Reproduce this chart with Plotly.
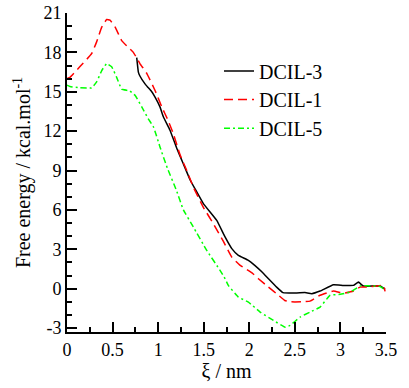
import plotly.graph_objects as go

# DCIL-3 (black, solid)
x_dcil3 = [0.765, 0.783, 0.80, 0.856, 0.88, 0.93, 0.966, 1.02, 1.057, 1.13, 1.204, 1.277,
           1.35, 1.405, 1.496, 1.643, 1.734, 1.808, 1.88, 1.99, 2.06, 2.14, 2.21, 2.30,
           2.37, 2.52, 2.61, 2.686, 2.777, 2.923, 3.033, 3.143, 3.198, 3.25, 3.436, 3.49]
y_dcil3 = [17.6, 16.5, 16.2, 15.6, 15.4, 15.0, 14.6, 13.85, 13.1, 12.07, 10.7, 9.5,
           8.3, 7.6, 6.48, 5.2, 3.94, 3.05, 2.54, 2.16, 1.78, 1.27, 0.76, 0.12,
           -0.3, -0.33, -0.3, -0.38, -0.18, 0.3, 0.25, 0.25, 0.5, 0.2, 0.2, -0.05]

# DCIL-1 (red, dashed)
x_dcil1 = [0.0, 0.033, 0.14, 0.27, 0.325, 0.38, 0.435, 0.472, 0.527, 0.6, 0.655, 0.728,
           0.8, 0.875, 0.966, 1.04, 1.11, 1.167, 1.24, 1.314, 1.386, 1.496, 1.606, 1.716,
           1.808, 1.9, 2.03, 2.1, 2.21, 2.32, 2.39, 2.45, 2.58, 2.667, 2.777, 2.923,
           3.033, 3.143, 3.216, 3.29, 3.47, 3.49]
y_dcil1 = [16.0, 16.1, 16.9, 17.9, 18.8, 19.9, 20.5, 20.45, 19.94, 18.9, 18.5, 18.0,
           17.15, 16.4, 15.1, 13.85, 12.8, 11.8, 10.2, 9.0, 7.74, 6.2, 4.95, 3.6,
           2.4, 1.78, 1.2, 0.76, 0.12, -0.5, -0.9, -1.0, -1.0, -0.95, -0.5, -0.18,
           -0.35, -0.18, 0.12, 0.12, 0.25, -0.2]

# DCIL-5 (green, dash-dot)
x_dcil5 = [0.0, 0.033, 0.14, 0.27, 0.325, 0.38, 0.435, 0.49, 0.545, 0.6, 0.69, 0.75,
           0.82, 0.89, 0.95, 1.02, 1.1, 1.2, 1.277, 1.386, 1.533, 1.679, 1.734, 1.77,
           1.88, 1.99, 2.119, 2.265, 2.393, 2.448, 2.558, 2.667, 2.777, 2.887, 2.997, 3.106,
           3.216, 3.326, 3.436, 3.47]
y_dcil5 = [15.5, 15.4, 15.3, 15.3, 15.75, 16.6, 17.15, 16.9, 16.1, 15.2, 15.06, 14.7,
           13.85, 12.96, 12.3, 10.8, 9.2, 7.5, 6.0, 4.7, 2.92, 1.4, 0.76, 0.25,
           -0.64, -1.02, -1.78, -2.42, -2.93, -2.8, -2.16, -1.78, -1.4, -0.5, -0.43, -0.26,
           0.2, 0.22, 0.17, 0.0]

x_tickvals = [0, 0.5, 1, 1.5, 2, 2.5, 3, 3.5]
x_ticktext = ["0", "0.5", "1", "1.5", "2", "2.5", "3", "3.5"]
y_tickvals = [-3, 0, 3, 6, 9, 12, 15, 18, 21]
y_ticktext = ["-3", "0", "3", "6", "9", "12", "15", "18", "21"]

FONT = "Liberation Serif"
LEG_FONT = dict(family=FONT, size=20, color="black")

fig = go.Figure()
fig.add_trace(go.Scatter(x=x_dcil3, y=y_dcil3, mode="lines", name="DCIL-3",
                         legend="legend",
                         line=dict(color="black", width=1.5, shape="spline", smoothing=0.3)))
fig.add_trace(go.Scatter(x=x_dcil1, y=y_dcil1, mode="lines", name="DCIL-1",
                         legend="legend2",
                         line=dict(color="#ff0000", width=1.5, dash="9px,5px",
                                   shape="spline", smoothing=0.3)))
fig.add_trace(go.Scatter(x=x_dcil5, y=y_dcil5, mode="lines", name="DCIL-5",
                         legend="legend3",
                         line=dict(color="#00ff00", width=1.5, dash="6px,3px,2px,3px",
                                   shape="spline", smoothing=0.3)))

leg_common = dict(x=0.4765, xanchor="left", yanchor="middle",
                  bgcolor="rgba(0,0,0,0)", font=LEG_FONT, itemwidth=30)

fig.update_layout(
    width=409, height=388,
    margin=dict(l=67, r=23, t=13, b=56, autoexpand=False),
    paper_bgcolor="white", plot_bgcolor="white",
    font=dict(family=FONT, size=18, color="black"),
    showlegend=True,
    legend=dict(y=0.818, **leg_common),
    legend2=dict(y=0.729, **leg_common),
    legend3=dict(y=0.639, **leg_common),
    xaxis=dict(range=[0, 3.5], tickvals=x_tickvals, ticktext=x_ticktext,
               automargin=False,
               ticks="inside", ticklen=10, tickwidth=1.5, tickcolor="black",
               showline=True, linecolor="black", linewidth=2,
               showgrid=False, zeroline=False,
               minor=dict(dtick=0.25, tick0=0, ticks="inside", ticklen=5,
                          tickwidth=1.5, tickcolor="black", showgrid=False),
               title=dict(text="ξ / nm", font=dict(family=FONT, size=20), standoff=0),
               tickfont=dict(family=FONT, size=18)),
    yaxis=dict(range=[-3.3, 21], tickvals=y_tickvals, ticktext=y_ticktext,
               automargin=False,
               ticks="inside", ticklen=10, tickwidth=1.5, tickcolor="black",
               showline=True, linecolor="black", linewidth=2,
               showgrid=False, zeroline=False,
               minor=dict(dtick=1, tick0=0, ticks="inside", ticklen=5,
                          tickwidth=1.5, tickcolor="black", showgrid=False),
               title=dict(text="Free energy / kcal.mol<sup>-1</sup>",
                          font=dict(family=FONT, size=20), standoff=7),
               tickfont=dict(family=FONT, size=18)),
)

fig.write_html("out.html", config={"displayModeBar": False},
               post_script="document.body.style.margin='0px';")
